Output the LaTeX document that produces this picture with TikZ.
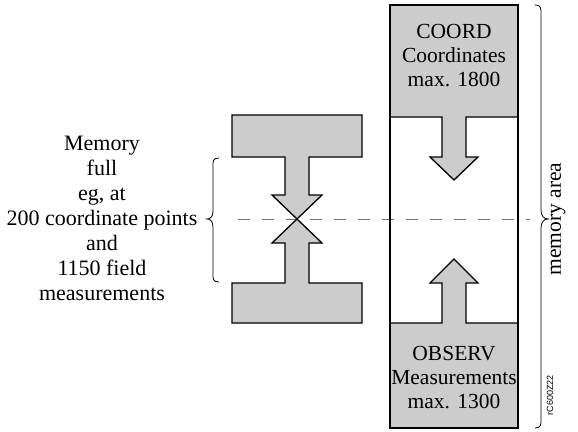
\documentclass[tikz,border=0pt]{standalone}
\usepackage{fontspec}
\setmainfont{Liberation Serif}
\newfontfamily\codefont{Liberation Sans}
\definecolor{fillg}{gray}{0.8}
\begin{document}
\begin{tikzpicture}[x=1pt,y=-1pt,
  shapefill/.style={fill=fillg, draw=black, line width=1.3pt, line join=miter},
  boxline/.style={draw=black, line width=2pt},
  boxtext/.style={font=\fontsize{21.5}{24}\selectfont, align=center, inner sep=0pt},
  lefttext/.style={font=\fontsize{22}{25}\selectfont, align=center, inner sep=0pt},
  codetext/.style={font=\codefont\fontsize{9}{10}\selectfont, inner sep=0pt},
  divline/.style={draw=black!55, line width=0.6pt, dash pattern=on 12pt off 12pt},
  bracestyle/.style={draw=black, line width=0.8pt}]
\useasboundingbox (0,0) rectangle (578,431);
% dividing line
\coordinate (dl) at (238,219);
\coordinate (dr) at (530,219);
\draw[divline] (dl) -- (dr);
% left hourglass shape
\path[shapefill] (232,115) -- (362,115) -- (362,157) -- (309,157) -- (309,195)
  -- (322,195) -- (297,219) -- (272,195) -- (285,195) -- (285,157) -- (232,157) -- cycle;
\path[shapefill] (232,323) -- (362,323) -- (362,283) -- (309,283) -- (309,243)
  -- (322,243) -- (297,219) -- (272,243) -- (285,243) -- (285,283) -- (232,283) -- cycle;
% memory box
\path[shapefill] (390,5) -- (518,5) -- (518,117) -- (466,117) -- (466,157) -- (478,157)
  -- (454,180) -- (430,157) -- (442,157) -- (442,117) -- (390,117) -- cycle;
\path[shapefill] (390,428) -- (518,428) -- (518,323) -- (466,323) -- (466,283) -- (478,283)
  -- (454,259) -- (430,283) -- (442,283) -- (442,323) -- (390,323) -- cycle;
\draw[boxline] (390,5) rectangle (518,428);
% texts
\node[boxtext] (coord) at (454,56) {COORD\\Coordinates\\max. 1800};
\node[boxtext] (observ) at (454,378) {OBSERV\\Measurements\\max. 1300};
\node[lefttext] (memfull) at (102,218) {Memory\\full\\eg, at\\200 coordinate points\\and\\1150 field\\measurements};
\node[boxtext, rotate=90] (marea) at (558,219) {memory area};
\node[codetext, rotate=90] (code) at (550,395) {rC600Z22};
% braces
\draw[bracestyle] (219,158) .. controls (213,158) and (213,161) .. (213,166) -- (213,211)
  .. controls (213,217) and (210,219) .. (207,219) .. controls (210,219) and (213,221) .. (213,227)
  -- (213,274) .. controls (213,279) and (213,282) .. (219,282);
\draw[bracestyle] (535,5) .. controls (541,5) and (541,8) .. (541,14) -- (541,210)
  .. controls (541,216) and (544,219) .. (548,219) .. controls (544,219) and (541,222) .. (541,228)
  -- (541,419) .. controls (541,425) and (541,428) .. (535,428);
\end{tikzpicture}
\end{document}
